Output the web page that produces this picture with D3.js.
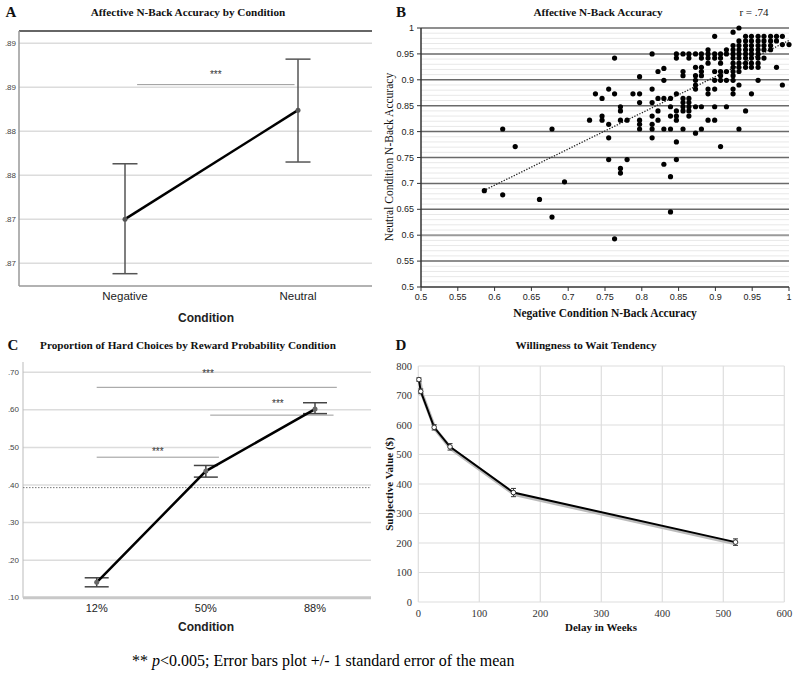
<!DOCTYPE html>
<html><head><meta charset="utf-8">
<script src="https://cdn.jsdelivr.net/npm/d3@7"></script>
<style>body{margin:0;background:#fff}svg{display:block}</style>
</head><body>
<svg id="c" width="800" height="689"></svg>
<script>
// ---------- DATA ----------
// Panel A
const condA = ["Negative", "Neutral"];
const meanA = [0.8725, 0.8849];
const hiA = [0.8788, 0.8907];
const loA = [0.8663, 0.8790];
const ticksA = [0.8675, 0.8725, 0.8775, 0.8825, 0.8875, 0.8925];
const sigA = [{ from: 0.07, to: 0.98, y: 0.8878, label: "***" }];

// Panel B (negative accuracy, neutral accuracy)
const scatterB = [
  [0.611,0.805],[0.628,0.771],[0.678,0.805],[0.729,0.822],[0.737,0.873],[0.746,0.864],[0.746,0.830],[0.746,0.822],
  [0.755,0.882],[0.755,0.814],[0.755,0.788],[0.763,0.873],[0.763,0.942],[0.771,0.848],[0.771,0.840],[0.771,0.822],
  [0.780,0.822],[0.788,0.873],[0.797,0.873],[0.797,0.906],[0.797,0.856],[0.797,0.822],[0.797,0.814],[0.797,0.805],
  [0.814,0.950],[0.814,0.882],[0.814,0.856],[0.814,0.830],[0.814,0.814],[0.814,0.805],[0.814,0.788],
  [0.822,0.916],[0.822,0.864],[0.822,0.840],[0.822,0.822],[0.830,0.922],[0.830,0.899],[0.830,0.864],[0.830,0.805],
  [0.839,0.864],[0.839,0.848],[0.839,0.830],[0.839,0.805],[0.847,0.950],[0.847,0.942],[0.847,0.873],[0.847,0.840],
  [0.847,0.830],[0.847,0.822],[0.847,0.780],[0.856,0.950],[0.856,0.916],[0.856,0.908],[0.856,0.864],[0.856,0.856],
  [0.856,0.848],[0.856,0.840],[0.856,0.805],[0.864,0.950],[0.864,0.942],[0.864,0.864],[0.864,0.856],[0.864,0.848],
  [0.864,0.840],[0.864,0.830],[0.873,0.950],[0.873,0.924],[0.873,0.908],[0.873,0.899],[0.873,0.890],[0.873,0.882],
  [0.873,0.848],[0.873,0.797],[0.881,0.950],[0.881,0.942],[0.881,0.924],[0.881,0.916],[0.881,0.908],[0.881,0.848],
  [0.881,0.805],[0.890,0.958],[0.890,0.950],[0.890,0.942],[0.890,0.932],[0.890,0.882],[0.890,0.873],[0.890,0.822],
  [0.899,0.984],[0.899,0.950],[0.899,0.942],[0.899,0.916],[0.899,0.899],[0.899,0.882],[0.899,0.848],[0.899,0.822],
  [0.907,0.950],[0.907,0.942],[0.907,0.932],[0.907,0.916],[0.907,0.908],[0.907,0.899],[0.907,0.771],
  [0.915,0.958],[0.915,0.950],[0.915,0.916],[0.915,0.899],[0.915,0.848],
  [0.924,0.992],[0.924,0.966],[0.924,0.958],[0.924,0.950],[0.924,0.942],[0.924,0.932],[0.924,0.924],[0.924,0.916],
  [0.924,0.908],[0.924,0.899],[0.924,0.882],[0.924,0.873],
  [0.932,1.000],[0.932,0.975],[0.932,0.966],[0.932,0.958],[0.932,0.950],[0.932,0.942],[0.932,0.932],[0.932,0.924],
  [0.932,0.916],[0.932,0.890],[0.932,0.805],
  [0.941,0.984],[0.941,0.975],[0.941,0.966],[0.941,0.958],[0.941,0.950],[0.941,0.942],[0.941,0.932],[0.941,0.924],[0.941,0.840],
  [0.949,0.984],[0.949,0.975],[0.949,0.966],[0.949,0.958],[0.949,0.950],[0.949,0.942],[0.949,0.932],[0.949,0.924],[0.949,0.873],
  [0.958,0.984],[0.958,0.975],[0.958,0.966],[0.958,0.958],[0.958,0.950],[0.958,0.942],[0.958,0.932],[0.958,0.924],[0.958,0.899],
  [0.966,0.984],[0.966,0.975],[0.966,0.966],[0.966,0.958],[0.966,0.942],
  [0.975,0.984],[0.975,0.975],[0.975,0.966],[0.975,0.958],
  [0.983,0.984],[0.983,0.975],[0.983,0.924],
  [0.991,0.984],[0.991,0.968],[0.991,0.890],[1.000,0.968],
  [0.586,0.686],[0.611,0.678],[0.661,0.669],[0.678,0.635],[0.695,0.703],[0.755,0.746],[0.763,0.593],
  [0.771,0.729],[0.771,0.720],[0.780,0.746],[0.830,0.737],[0.839,0.713],[0.839,0.645],[0.847,0.746]
];
const trendB = [[0.585, 0.686], [1.0, 0.976]];
const ticksB = [0.5,0.55,0.6,0.65,0.7,0.75,0.8,0.85,0.9,0.95,1];

// Panel C
const condC = ["12%", "50%", "88%"];
const meanC = [0.141, 0.437, 0.602];
const hiC = [0.153, 0.452, 0.619];
const loC = [0.129, 0.421, 0.590];
const ticksC = [0.10, 0.20, 0.30, 0.40, 0.50, 0.60, 0.70];
const refLineC = 0.393;
const sigC = [
  { from: 0.0, to: 2.2, y: 0.660, starAt: 1.02, starY: 0.698 },
  { from: 1.04, to: 2.17, y: 0.586, starAt: 1.66, starY: 0.617 },
  { from: 0.0, to: 1.12, y: 0.474, starAt: 0.56, starY: 0.490 }
];

// Panel D
const delayD = [1, 4, 26, 52, 156, 520];
const valueD = [754, 714, 592, 526, 371, 203];
const seD = [6, 8, 9, 11, 14, 11];
const ticksDx = [0, 100, 200, 300, 400, 500, 600];
const ticksDy = [0, 100, 200, 300, 400, 500, 600, 700, 800];

// ---------- DRAW ----------
const svg = d3.select("#c");
const serif = "'Liberation Serif','Times New Roman',serif";
const sans = "'Liberation Sans',Arial,sans-serif";

function txt(g, x, y, s, o = {}) {
  return g.append("text").attr("x", x).attr("y", y).text(s)
    .attr("font-family", o.ff || serif).attr("font-size", o.fs || 11)
    .attr("font-weight", o.fw || "normal").attr("fill", o.fill || "#111")
    .attr("text-anchor", o.anchor || "middle").attr("dominant-baseline", "central");
}

// ===== Panel A =====
{
  const g = svg.append("g");
  const x = d3.scalePoint().domain(condA).range([125, 298]);
  const xi = d3.scaleLinear().domain([0, 1]).range([125, 298]);
  const y = d3.scaleLinear().domain([0.8649, 0.8939]).range([286, 31]);
  const L = 19, R = 372;
  txt(g, 11, 12, "A", { fs: 15, fw: "bold" });
  txt(g, 188, 12, "Affective N-Back Accuracy by Condition", { fs: 11.2, fw: "bold" });
  g.selectAll(".gA").data(ticksA).join("line")
    .attr("x1", L).attr("x2", R).attr("y1", d => y(d)).attr("y2", d => y(d))
    .attr("stroke", "#dcdcdc").attr("stroke-width", 1.5);
  const fmt = d3.format(".2f");
  g.selectAll(".tA").data(ticksA).join("text")
    .attr("x", 16).attr("y", d => y(d)).text(d => fmt(d).replace(/^0/, ""))
    .attr("font-family", sans).attr("font-size", 8).attr("fill", "#444")
    .attr("text-anchor", "end").attr("dominant-baseline", "central");
  g.append("line").attr("x1", L).attr("x2", R).attr("y1", 31).attr("y2", 31).attr("stroke", "#666").attr("stroke-width", 2);
  g.append("line").attr("x1", L).attr("x2", L).attr("y1", 31).attr("y2", 286).attr("stroke", "#999").attr("stroke-width", 1.5);
  g.append("line").attr("x1", L).attr("x2", R).attr("y1", 286).attr("y2", 286).attr("stroke", "#999").attr("stroke-width", 1.5);
  sigA.forEach(s => {
    g.append("line").attr("x1", xi(s.from)).attr("x2", xi(s.to)).attr("y1", y(s.y)).attr("y2", y(s.y))
      .attr("stroke", "#999").attr("stroke-width", 1);
    txt(g, (xi(s.from) + xi(s.to)) / 2, y(s.y) - 10, s.label, { ff: sans, fs: 10, fill: "#333" });
  });
  condA.forEach((c, i) => {
    const cx = x(c);
    g.append("line").attr("x1", cx).attr("x2", cx).attr("y1", y(hiA[i])).attr("y2", y(loA[i])).attr("stroke", "#555").attr("stroke-width", 1.5);
    [hiA[i], loA[i]].forEach(v => g.append("line").attr("x1", cx - 12.5).attr("x2", cx + 12.5).attr("y1", y(v)).attr("y2", y(v)).attr("stroke", "#555").attr("stroke-width", 1.5));
  });
  g.append("path").datum(condA.map((c, i) => [x(c), y(meanA[i])]))
    .attr("d", d3.line()).attr("fill", "none").attr("stroke", "#000").attr("stroke-width", 2.5);
  g.selectAll(".mA").data(condA).join("circle").attr("cx", d => x(d)).attr("cy", (d, i) => y(meanA[i])).attr("r", 2.5).attr("fill", "#555");
  condA.forEach(c => txt(g, x(c), 296, c, { ff: sans, fs: 11.5, fill: "#222" }));
  txt(g, 206, 318, "Condition", { ff: sans, fs: 12, fw: "bold", fill: "#222" });
}

// ===== Panel B =====
{
  const g = svg.append("g");
  const x = d3.scaleLinear().domain([0.5, 1]).range([421, 789]);
  const y = d3.scaleLinear().domain([0.5, 1]).range([287, 28]);
  txt(g, 401, 12, "B", { fs: 15, fw: "bold" });
  txt(g, 598, 12, "Affective N-Back Accuracy", { fs: 11.2, fw: "bold" });
  txt(g, 754, 12, "r = .74", { fs: 11 });
  const minor = d3.range(50, 101).map(v => v / 100).filter(v => Math.round(v * 100) % 5 !== 0);
  g.selectAll(".mn").data(minor).join("line")
    .attr("x1", 421).attr("x2", 789).attr("y1", d => y(d)).attr("y2", d => y(d))
    .attr("stroke", "#e8e8e8").attr("stroke-width", 1);
  g.selectAll(".mj").data(ticksB.slice(1)).join("line")
    .attr("x1", 421).attr("x2", 789).attr("y1", d => y(d)).attr("y2", d => y(d))
    .attr("stroke", d => Math.abs(d - 0.6) < 1e-6 ? "#9a9a9a" : "#6a6a6a").attr("stroke-width", d => Math.abs(d - 0.6) < 1e-6 ? 2 : 1.5);
  g.append("line").attr("x1", 421).attr("x2", 421).attr("y1", 28).attr("y2", 287).attr("stroke", "#333").attr("stroke-width", 1.5);
  g.append("line").attr("x1", 421).attr("x2", 789).attr("y1", 287).attr("y2", 287).attr("stroke", "#333").attr("stroke-width", 1.5);
  g.selectAll(".xt").data(ticksB).join("line").attr("x1", d => x(d)).attr("x2", d => x(d)).attr("y1", 287).attr("y2", 291).attr("stroke", "#333");
  g.selectAll(".yt").data(ticksB).join("line").attr("x1", 417).attr("x2", 421).attr("y1", d => y(d)).attr("y2", d => y(d)).attr("stroke", "#333");
  g.selectAll(".xl").data(ticksB).join("text").attr("x", d => x(d)).attr("y", 297).text(d => String(d))
    .attr("font-family", sans).attr("font-size", 9).attr("fill", "#222").attr("text-anchor", "middle").attr("dominant-baseline", "central");
  g.selectAll(".yl").data(ticksB).join("text").attr("x", 414).attr("y", d => y(d)).text(d => String(d))
    .attr("font-family", sans).attr("font-size", 9).attr("fill", "#222").attr("text-anchor", "end").attr("dominant-baseline", "central");
  g.append("path").datum(trendB).attr("d", d3.line().x(d => x(d[0])).y(d => y(d[1])))
    .attr("fill", "none").attr("stroke", "#222").attr("stroke-width", 1.3).attr("stroke-dasharray", "1.3,1.5");
  g.selectAll(".pt").data(scatterB).join("circle")
    .attr("cx", d => x(d[0])).attr("cy", d => y(d[1])).attr("r", 2.6).attr("fill", "#000");
  txt(g, 605, 313, "Negative Condition N-Back Accuracy", { fs: 11.5, fw: "bold" });
  txt(g, 0, 0, "Neutral Condition N-Back Accuracy", { fs: 11.5 }).attr("transform", "translate(389,157) rotate(-90)");
}

// ===== Panel C =====
{
  const g = svg.append("g");
  const x = d3.scalePoint().domain(condC).range([96.7, 315]);
  const xi = d3.scaleLinear().domain([0, 2]).range([96.7, 315]);
  const y = d3.scaleLinear().domain([0.1, 0.7]).range([597.7, 372.3]);
  const L = 23, R = 371;
  txt(g, 13, 345, "C", { fs: 15, fw: "bold" });
  txt(g, 188, 345, "Proportion of Hard Choices by Reward Probability Condition", { fs: 11.2, fw: "bold" });
  g.selectAll(".gC").data(ticksC.slice(1)).join("line")
    .attr("x1", L).attr("x2", R).attr("y1", d => y(d)).attr("y2", d => y(d))
    .attr("stroke", "#dcdcdc").attr("stroke-width", 1.5);
  g.append("line").attr("x1", L).attr("x2", L).attr("y1", 362).attr("y2", y(0.1)).attr("stroke", "#bbb").attr("stroke-width", 1);
  g.append("line").attr("x1", L).attr("x2", R).attr("y1", y(0.1)).attr("y2", y(0.1)).attr("stroke", "#c8c8c8").attr("stroke-width", 3);
  const fmt = d3.format(".2f");
  g.selectAll(".tC").data(ticksC).join("text")
    .attr("x", 19).attr("y", d => y(d)).text(d => fmt(d).replace(/^0/, ""))
    .attr("font-family", sans).attr("font-size", 8).attr("fill", "#444")
    .attr("text-anchor", "end").attr("dominant-baseline", "central");
  g.append("line").attr("x1", L).attr("x2", R).attr("y1", y(refLineC)).attr("y2", y(refLineC))
    .attr("stroke", "#777").attr("stroke-width", 1).attr("stroke-dasharray", "1.5,1.5");
  sigC.forEach(s => {
    g.append("line").attr("x1", xi(s.from)).attr("x2", xi(s.to)).attr("y1", y(s.y)).attr("y2", y(s.y))
      .attr("stroke", "#999").attr("stroke-width", 1);
    txt(g, xi(s.starAt), y(s.starY), "***", { ff: sans, fs: 10, fill: "#333" });
  });
  condC.forEach((c, i) => {
    const cx = x(c);
    g.append("line").attr("x1", cx).attr("x2", cx).attr("y1", y(hiC[i])).attr("y2", y(loC[i])).attr("stroke", "#444").attr("stroke-width", 1.5);
    [hiC[i], loC[i]].forEach(v => g.append("line").attr("x1", cx - 12).attr("x2", cx + 12).attr("y1", y(v)).attr("y2", y(v)).attr("stroke", "#444").attr("stroke-width", 1.5));
  });
  g.append("path").datum(condC.map((c, i) => [x(c), y(meanC[i])]))
    .attr("d", d3.line()).attr("fill", "none").attr("stroke", "#000").attr("stroke-width", 2.5);
  g.selectAll(".mC").data(condC).join("circle").attr("cx", d => x(d)).attr("cy", (d, i) => y(meanC[i])).attr("r", 2.5).attr("fill", "#666");
  condC.forEach(c => txt(g, x(c), 608, c, { ff: sans, fs: 11, fill: "#222" }));
  txt(g, 206, 627, "Condition", { ff: sans, fs: 12, fw: "bold", fill: "#222" });
}

// ===== Panel D =====
{
  const g = svg.append("g");
  const x = d3.scaleLinear().domain([0, 600]).range([418.3, 784.3]);
  const y = d3.scaleLinear().domain([0, 800]).range([602, 366]);
  txt(g, 401, 345, "D", { fs: 15, fw: "bold" });
  txt(g, 586, 345, "Willingness to Wait Tendency", { fs: 11.2, fw: "bold" });
  g.selectAll(".vx").data(ticksDx).join("line").attr("x1", d => x(d)).attr("x2", d => x(d)).attr("y1", y(800)).attr("y2", y(0))
    .attr("stroke", "#dedede").attr("stroke-width", 1.2);
  g.selectAll(".hy").data(ticksDy).join("line").attr("x1", x(0)).attr("x2", x(600)).attr("y1", d => y(d)).attr("y2", d => y(d))
    .attr("stroke", "#dedede").attr("stroke-width", 1.2);
  g.selectAll(".xl").data(ticksDx).join("text").attr("x", d => x(d)).attr("y", 613).text(d => d)
    .attr("font-family", serif).attr("font-size", 10.5).attr("fill", "#333").attr("text-anchor", "middle").attr("dominant-baseline", "central");
  g.selectAll(".yl").data(ticksDy).join("text").attr("x", 412).attr("y", d => y(d)).text(d => d)
    .attr("font-family", serif).attr("font-size", 10.5).attr("fill", "#333").attr("text-anchor", "end").attr("dominant-baseline", "central");
  const pts = delayD.map((d, i) => [x(d), y(valueD[i])]);
  g.append("path").datum(pts.map(p => [p[0] + 1, p[1] + 1.8])).attr("d", d3.line())
    .attr("fill", "none").attr("stroke", "#bbb").attr("stroke-width", 3.5);
  g.append("path").datum(pts).attr("d", d3.line())
    .attr("fill", "none").attr("stroke", "#000").attr("stroke-width", 2);
  delayD.forEach((d, i) => {
    const cx = x(d);
    g.append("line").attr("x1", cx).attr("x2", cx).attr("y1", y(valueD[i] + seD[i])).attr("y2", y(valueD[i] - seD[i])).attr("stroke", "#333").attr("stroke-width", 1);
    [valueD[i] + seD[i], valueD[i] - seD[i]].forEach(v => g.append("line").attr("x1", cx - 2.5).attr("x2", cx + 2.5).attr("y1", y(v)).attr("y2", y(v)).attr("stroke", "#333").attr("stroke-width", 1));
  });
  g.selectAll(".mD").data(pts).join("circle").attr("cx", d => d[0]).attr("cy", d => d[1]).attr("r", 2.3)
    .attr("fill", "#fff").attr("stroke", "#333").attr("stroke-width", 1);
  txt(g, 601, 627, "Delay in Weeks", { fs: 11, fw: "bold" });
  txt(g, 0, 0, "Subjective Value ($)", { fs: 11, fw: "bold" }).attr("transform", "translate(389,484) rotate(-90)");
}

// ===== Footer =====
{
  const t = svg.append("text").attr("x", 132).attr("y", 666)
    .attr("font-family", serif).attr("font-size", 16).attr("fill", "#000");
  t.append("tspan").text("** ");
  t.append("tspan").attr("font-style", "italic").text("p");
  t.append("tspan").text("<0.005; Error bars plot +/- 1 standard error of the mean");
}
</script>
</body></html>
